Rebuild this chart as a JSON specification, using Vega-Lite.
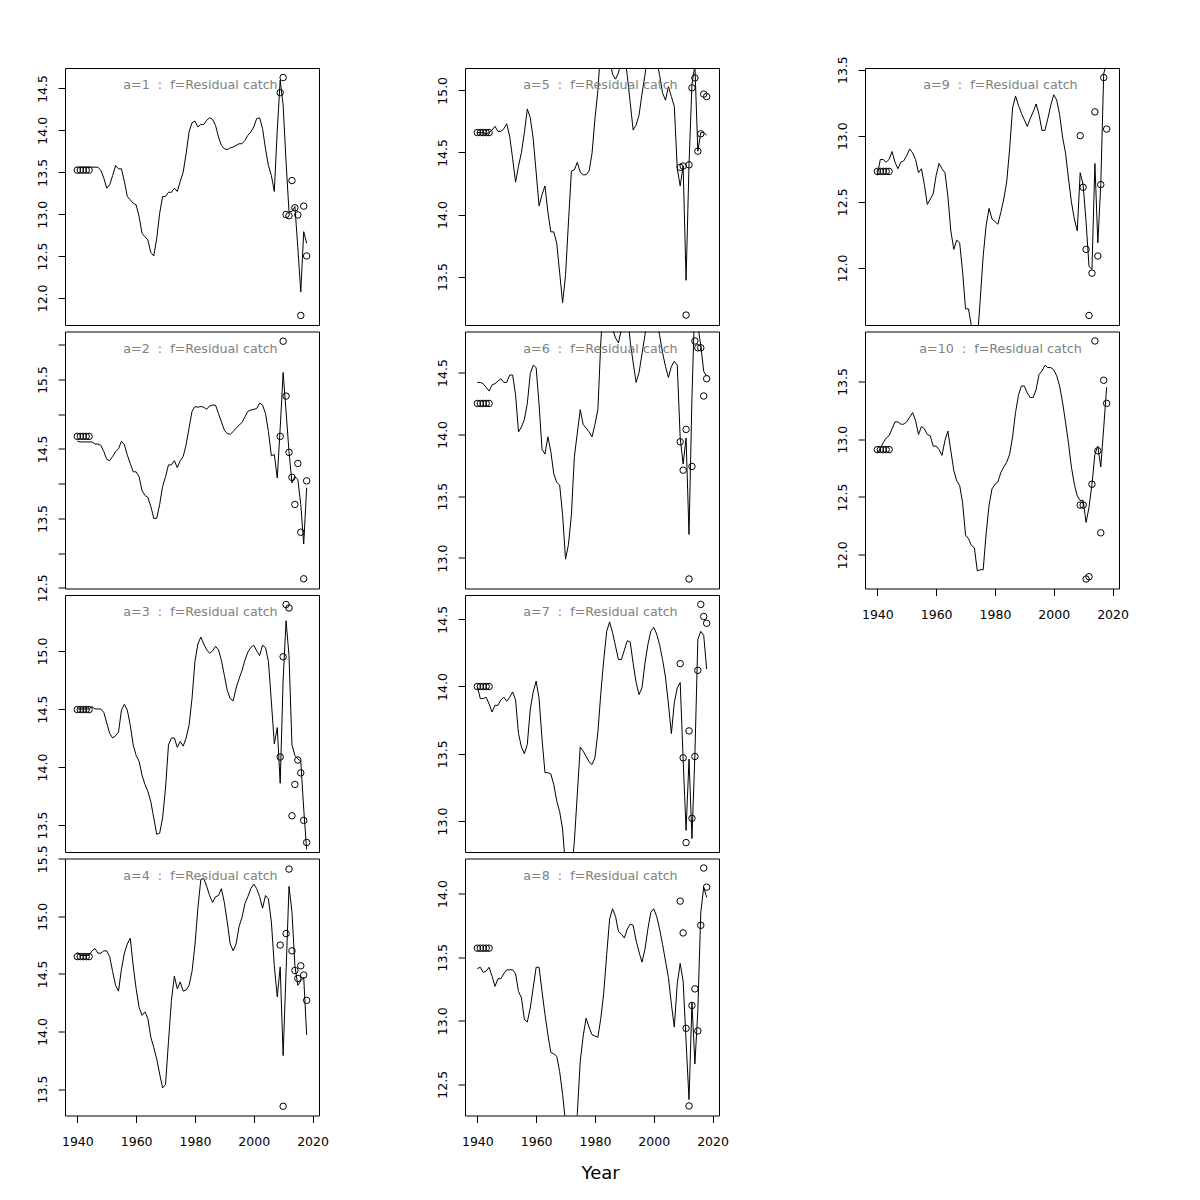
{
"$schema":"https://vega.github.io/schema/vega-lite/v6.json",
"background":"white",
"padding":{"left":36,"top":55,"right":10,"bottom":10},
"title":{"text":"Year","orient":"bottom","fontSize":18,"fontWeight":"normal","color":"black","font":"DejaVu Sans","frame":"bounds","anchor":"middle","offset":30,"baseline":"alphabetic","dx":18},
"columns":3,
"spacing":{"row":6.5,"column":146},
"bounds":"flush",
"datasets":{
"lines":[
{"a":1,"y":1940,"v":13.56},{"a":1,"y":1941,"v":13.56},{"a":1,"y":1942,"v":13.56},{"a":1,"y":1943,"v":13.56},{"a":1,"y":1944,"v":13.56},{"a":1,"y":1945,"v":13.56},{"a":1,"y":1946,"v":13.56},{"a":1,"y":1947,"v":13.56},{"a":1,"y":1948,"v":13.52},{"a":1,"y":1949,"v":13.43},
{"a":1,"y":1950,"v":13.31},{"a":1,"y":1951,"v":13.35},{"a":1,"y":1952,"v":13.46},{"a":1,"y":1953,"v":13.58},{"a":1,"y":1954,"v":13.54},{"a":1,"y":1955,"v":13.54},{"a":1,"y":1956,"v":13.39},{"a":1,"y":1957,"v":13.21},{"a":1,"y":1958,"v":13.17},{"a":1,"y":1959,"v":13.13},
{"a":1,"y":1960,"v":13.11},{"a":1,"y":1961,"v":12.97},{"a":1,"y":1962,"v":12.77},{"a":1,"y":1963,"v":12.73},{"a":1,"y":1964,"v":12.69},{"a":1,"y":1965,"v":12.54},{"a":1,"y":1966,"v":12.50},{"a":1,"y":1967,"v":12.71},{"a":1,"y":1968,"v":13.01},{"a":1,"y":1969,"v":13.21},
{"a":1,"y":1970,"v":13.21},{"a":1,"y":1971,"v":13.26},{"a":1,"y":1972,"v":13.26},{"a":1,"y":1973,"v":13.31},{"a":1,"y":1974,"v":13.27},{"a":1,"y":1975,"v":13.39},{"a":1,"y":1976,"v":13.50},{"a":1,"y":1977,"v":13.72},{"a":1,"y":1978,"v":13.98},{"a":1,"y":1979,"v":14.09},
{"a":1,"y":1980,"v":14.11},{"a":1,"y":1981,"v":14.04},{"a":1,"y":1982,"v":14.07},{"a":1,"y":1983,"v":14.07},{"a":1,"y":1984,"v":14.12},{"a":1,"y":1985,"v":14.15},{"a":1,"y":1986,"v":14.13},{"a":1,"y":1987,"v":14.06},{"a":1,"y":1988,"v":13.92},{"a":1,"y":1989,"v":13.82},
{"a":1,"y":1990,"v":13.78},{"a":1,"y":1991,"v":13.77},{"a":1,"y":1992,"v":13.79},{"a":1,"y":1993,"v":13.80},{"a":1,"y":1994,"v":13.82},{"a":1,"y":1995,"v":13.84},{"a":1,"y":1996,"v":13.84},{"a":1,"y":1997,"v":13.88},{"a":1,"y":1998,"v":13.94},{"a":1,"y":1999,"v":13.98},
{"a":1,"y":2000,"v":14.04},{"a":1,"y":2001,"v":14.14},{"a":1,"y":2002,"v":14.15},{"a":1,"y":2003,"v":14.02},{"a":1,"y":2004,"v":13.78},{"a":1,"y":2005,"v":13.58},{"a":1,"y":2006,"v":13.46},{"a":1,"y":2007,"v":13.27},{"a":1,"y":2008,"v":14.00},{"a":1,"y":2009,"v":14.60},
{"a":1,"y":2010,"v":14.30},{"a":1,"y":2011,"v":13.62},{"a":1,"y":2012,"v":13.03},{"a":1,"y":2013,"v":13.03},{"a":1,"y":2014,"v":13.09},{"a":1,"y":2015,"v":12.60},{"a":1,"y":2016,"v":12.07},{"a":1,"y":2017,"v":12.79},{"a":1,"y":2018,"v":12.65},
{"a":2,"y":1940,"v":14.61},{"a":2,"y":1941,"v":14.60},{"a":2,"y":1942,"v":14.60},{"a":2,"y":1943,"v":14.60},{"a":2,"y":1944,"v":14.60},{"a":2,"y":1945,"v":14.60},{"a":2,"y":1946,"v":14.57},{"a":2,"y":1947,"v":14.57},{"a":2,"y":1948,"v":14.55},{"a":2,"y":1949,"v":14.46},
{"a":2,"y":1950,"v":14.35},{"a":2,"y":1951,"v":14.33},{"a":2,"y":1952,"v":14.39},{"a":2,"y":1953,"v":14.46},{"a":2,"y":1954,"v":14.50},{"a":2,"y":1955,"v":14.61},{"a":2,"y":1956,"v":14.56},{"a":2,"y":1957,"v":14.41},{"a":2,"y":1958,"v":14.29},{"a":2,"y":1959,"v":14.17},
{"a":2,"y":1960,"v":14.17},{"a":2,"y":1961,"v":14.10},{"a":2,"y":1962,"v":13.90},{"a":2,"y":1963,"v":13.83},{"a":2,"y":1964,"v":13.80},{"a":2,"y":1965,"v":13.67},{"a":2,"y":1966,"v":13.50},{"a":2,"y":1967,"v":13.50},{"a":2,"y":1968,"v":13.70},{"a":2,"y":1969,"v":13.96},
{"a":2,"y":1970,"v":14.10},{"a":2,"y":1971,"v":14.27},{"a":2,"y":1972,"v":14.27},{"a":2,"y":1973,"v":14.33},{"a":2,"y":1974,"v":14.23},{"a":2,"y":1975,"v":14.33},{"a":2,"y":1976,"v":14.39},{"a":2,"y":1977,"v":14.56},{"a":2,"y":1978,"v":14.80},{"a":2,"y":1979,"v":15.04},
{"a":2,"y":1980,"v":15.11},{"a":2,"y":1981,"v":15.10},{"a":2,"y":1982,"v":15.11},{"a":2,"y":1983,"v":15.10},{"a":2,"y":1984,"v":15.07},{"a":2,"y":1985,"v":15.12},{"a":2,"y":1986,"v":15.13},{"a":2,"y":1987,"v":15.13},{"a":2,"y":1988,"v":15.01},{"a":2,"y":1989,"v":14.89},
{"a":2,"y":1990,"v":14.77},{"a":2,"y":1991,"v":14.72},{"a":2,"y":1992,"v":14.71},{"a":2,"y":1993,"v":14.75},{"a":2,"y":1994,"v":14.80},{"a":2,"y":1995,"v":14.84},{"a":2,"y":1996,"v":14.88},{"a":2,"y":1997,"v":14.96},{"a":2,"y":1998,"v":15.04},{"a":2,"y":1999,"v":15.06},
{"a":2,"y":2000,"v":15.07},{"a":2,"y":2001,"v":15.08},{"a":2,"y":2002,"v":15.16},{"a":2,"y":2003,"v":15.13},{"a":2,"y":2004,"v":15.01},{"a":2,"y":2005,"v":14.75},{"a":2,"y":2006,"v":14.40},{"a":2,"y":2007,"v":14.42},{"a":2,"y":2008,"v":14.08},{"a":2,"y":2009,"v":14.80},
{"a":2,"y":2010,"v":15.60},{"a":2,"y":2011,"v":15.04},{"a":2,"y":2012,"v":14.46},{"a":2,"y":2013,"v":14.01},{"a":2,"y":2014,"v":14.10},{"a":2,"y":2015,"v":14.06},{"a":2,"y":2016,"v":13.70},{"a":2,"y":2017,"v":13.13},{"a":2,"y":2018,"v":13.94},
{"a":3,"y":1940,"v":14.50},{"a":3,"y":1941,"v":14.50},{"a":3,"y":1942,"v":14.50},{"a":3,"y":1943,"v":14.50},{"a":3,"y":1944,"v":14.50},{"a":3,"y":1945,"v":14.52},{"a":3,"y":1946,"v":14.50},{"a":3,"y":1947,"v":14.50},{"a":3,"y":1948,"v":14.50},{"a":3,"y":1949,"v":14.47},
{"a":3,"y":1950,"v":14.38},{"a":3,"y":1951,"v":14.29},{"a":3,"y":1952,"v":14.25},{"a":3,"y":1953,"v":14.27},{"a":3,"y":1954,"v":14.30},{"a":3,"y":1955,"v":14.49},{"a":3,"y":1956,"v":14.54},{"a":3,"y":1957,"v":14.49},{"a":3,"y":1958,"v":14.36},{"a":3,"y":1959,"v":14.19},
{"a":3,"y":1960,"v":14.10},{"a":3,"y":1961,"v":14.05},{"a":3,"y":1962,"v":13.93},{"a":3,"y":1963,"v":13.85},{"a":3,"y":1964,"v":13.79},{"a":3,"y":1965,"v":13.70},{"a":3,"y":1966,"v":13.56},{"a":3,"y":1967,"v":13.42},{"a":3,"y":1968,"v":13.43},{"a":3,"y":1969,"v":13.56},
{"a":3,"y":1970,"v":13.82},{"a":3,"y":1971,"v":14.19},{"a":3,"y":1972,"v":14.25},{"a":3,"y":1973,"v":14.25},{"a":3,"y":1974,"v":14.17},{"a":3,"y":1975,"v":14.22},{"a":3,"y":1976,"v":14.18},{"a":3,"y":1977,"v":14.25},{"a":3,"y":1978,"v":14.36},{"a":3,"y":1979,"v":14.59},
{"a":3,"y":1980,"v":14.91},{"a":3,"y":1981,"v":15.06},{"a":3,"y":1982,"v":15.12},{"a":3,"y":1983,"v":15.06},{"a":3,"y":1984,"v":15.01},{"a":3,"y":1985,"v":14.98},{"a":3,"y":1986,"v":15.00},{"a":3,"y":1987,"v":15.04},{"a":3,"y":1988,"v":15.01},{"a":3,"y":1989,"v":14.92},
{"a":3,"y":1990,"v":14.79},{"a":3,"y":1991,"v":14.66},{"a":3,"y":1992,"v":14.59},{"a":3,"y":1993,"v":14.57},{"a":3,"y":1994,"v":14.68},{"a":3,"y":1995,"v":14.76},{"a":3,"y":1996,"v":14.83},{"a":3,"y":1997,"v":14.92},{"a":3,"y":1998,"v":14.99},{"a":3,"y":1999,"v":15.03},
{"a":3,"y":2000,"v":15.05},{"a":3,"y":2001,"v":15.00},{"a":3,"y":2002,"v":14.96},{"a":3,"y":2003,"v":15.05},{"a":3,"y":2004,"v":15.03},{"a":3,"y":2005,"v":14.91},{"a":3,"y":2006,"v":14.56},{"a":3,"y":2007,"v":14.20},{"a":3,"y":2008,"v":14.34},{"a":3,"y":2009,"v":13.86},
{"a":3,"y":2010,"v":14.75},{"a":3,"y":2011,"v":15.26},{"a":3,"y":2012,"v":14.96},{"a":3,"y":2013,"v":14.19},{"a":3,"y":2014,"v":14.10},{"a":3,"y":2015,"v":14.07},{"a":3,"y":2016,"v":14.05},{"a":3,"y":2017,"v":13.64},{"a":3,"y":2018,"v":13.29},
{"a":4,"y":1940,"v":14.69},{"a":4,"y":1941,"v":14.66},{"a":4,"y":1942,"v":14.66},{"a":4,"y":1943,"v":14.66},{"a":4,"y":1944,"v":14.66},{"a":4,"y":1945,"v":14.70},{"a":4,"y":1946,"v":14.72},{"a":4,"y":1947,"v":14.68},{"a":4,"y":1948,"v":14.68},{"a":4,"y":1949,"v":14.70},
{"a":4,"y":1950,"v":14.70},{"a":4,"y":1951,"v":14.65},{"a":4,"y":1952,"v":14.52},{"a":4,"y":1953,"v":14.40},{"a":4,"y":1954,"v":14.35},{"a":4,"y":1955,"v":14.54},{"a":4,"y":1956,"v":14.68},{"a":4,"y":1957,"v":14.76},{"a":4,"y":1958,"v":14.81},{"a":4,"y":1959,"v":14.57},
{"a":4,"y":1960,"v":14.37},{"a":4,"y":1961,"v":14.21},{"a":4,"y":1962,"v":14.14},{"a":4,"y":1963,"v":14.17},{"a":4,"y":1964,"v":14.11},{"a":4,"y":1965,"v":13.95},{"a":4,"y":1966,"v":13.86},{"a":4,"y":1967,"v":13.76},{"a":4,"y":1968,"v":13.63},{"a":4,"y":1969,"v":13.51},
{"a":4,"y":1970,"v":13.54},{"a":4,"y":1971,"v":13.91},{"a":4,"y":1972,"v":14.27},{"a":4,"y":1973,"v":14.48},{"a":4,"y":1974,"v":14.37},{"a":4,"y":1975,"v":14.43},{"a":4,"y":1976,"v":14.35},{"a":4,"y":1977,"v":14.36},{"a":4,"y":1978,"v":14.40},{"a":4,"y":1979,"v":14.52},
{"a":4,"y":1980,"v":14.75},{"a":4,"y":1981,"v":15.07},{"a":4,"y":1982,"v":15.32},{"a":4,"y":1983,"v":15.33},{"a":4,"y":1984,"v":15.26},{"a":4,"y":1985,"v":15.18},{"a":4,"y":1986,"v":15.12},{"a":4,"y":1987,"v":15.17},{"a":4,"y":1988,"v":15.18},{"a":4,"y":1989,"v":15.24},
{"a":4,"y":1990,"v":15.12},{"a":4,"y":1991,"v":14.95},{"a":4,"y":1992,"v":14.76},{"a":4,"y":1993,"v":14.70},{"a":4,"y":1994,"v":14.76},{"a":4,"y":1995,"v":14.91},{"a":4,"y":1996,"v":14.99},{"a":4,"y":1997,"v":15.11},{"a":4,"y":1998,"v":15.17},{"a":4,"y":1999,"v":15.24},
{"a":4,"y":2000,"v":15.28},{"a":4,"y":2001,"v":15.24},{"a":4,"y":2002,"v":15.17},{"a":4,"y":2003,"v":15.07},{"a":4,"y":2004,"v":15.18},{"a":4,"y":2005,"v":15.15},{"a":4,"y":2006,"v":14.95},{"a":4,"y":2007,"v":14.57},{"a":4,"y":2008,"v":14.30},{"a":4,"y":2009,"v":14.56},
{"a":4,"y":2010,"v":13.79},{"a":4,"y":2011,"v":14.52},{"a":4,"y":2012,"v":15.26},{"a":4,"y":2013,"v":15.04},{"a":4,"y":2014,"v":14.57},{"a":4,"y":2015,"v":14.40},{"a":4,"y":2016,"v":14.44},{"a":4,"y":2017,"v":14.47},{"a":4,"y":2018,"v":13.97},
{"a":5,"y":1940,"v":14.66},{"a":5,"y":1941,"v":14.66},{"a":5,"y":1942,"v":14.66},{"a":5,"y":1943,"v":14.65},{"a":5,"y":1944,"v":14.66},{"a":5,"y":1945,"v":14.68},{"a":5,"y":1946,"v":14.71},{"a":5,"y":1947,"v":14.67},{"a":5,"y":1948,"v":14.67},{"a":5,"y":1949,"v":14.69},
{"a":5,"y":1950,"v":14.73},{"a":5,"y":1951,"v":14.63},{"a":5,"y":1952,"v":14.45},{"a":5,"y":1953,"v":14.26},{"a":5,"y":1954,"v":14.39},{"a":5,"y":1955,"v":14.50},{"a":5,"y":1956,"v":14.66},{"a":5,"y":1957,"v":14.85},{"a":5,"y":1958,"v":14.78},{"a":5,"y":1959,"v":14.61},
{"a":5,"y":1960,"v":14.34},{"a":5,"y":1961,"v":14.07},{"a":5,"y":1962,"v":14.16},{"a":5,"y":1963,"v":14.23},{"a":5,"y":1964,"v":14.02},{"a":5,"y":1965,"v":13.86},{"a":5,"y":1966,"v":13.86},{"a":5,"y":1967,"v":13.77},{"a":5,"y":1968,"v":13.53},{"a":5,"y":1969,"v":13.29},
{"a":5,"y":1970,"v":13.51},{"a":5,"y":1971,"v":13.94},{"a":5,"y":1972,"v":14.35},{"a":5,"y":1973,"v":14.36},{"a":5,"y":1974,"v":14.42},{"a":5,"y":1975,"v":14.34},{"a":5,"y":1976,"v":14.32},{"a":5,"y":1977,"v":14.32},{"a":5,"y":1978,"v":14.35},{"a":5,"y":1979,"v":14.49},
{"a":5,"y":1980,"v":14.77},{"a":5,"y":1981,"v":15.00},{"a":5,"y":1982,"v":15.35},{"a":5,"y":1983,"v":15.60},{"a":5,"y":1984,"v":15.50},{"a":5,"y":1985,"v":15.25},{"a":5,"y":1986,"v":15.13},{"a":5,"y":1987,"v":15.09},{"a":5,"y":1988,"v":15.14},{"a":5,"y":1989,"v":15.25},
{"a":5,"y":1990,"v":15.30},{"a":5,"y":1991,"v":15.12},{"a":5,"y":1992,"v":14.90},{"a":5,"y":1993,"v":14.68},{"a":5,"y":1994,"v":14.72},{"a":5,"y":1995,"v":14.80},{"a":5,"y":1996,"v":14.97},{"a":5,"y":1997,"v":15.12},{"a":5,"y":1998,"v":15.30},{"a":5,"y":1999,"v":15.50},
{"a":5,"y":2000,"v":15.40},{"a":5,"y":2001,"v":15.25},{"a":5,"y":2002,"v":15.12},{"a":5,"y":2003,"v":14.98},{"a":5,"y":2004,"v":14.92},{"a":5,"y":2005,"v":15.03},{"a":5,"y":2006,"v":14.95},{"a":5,"y":2007,"v":14.87},{"a":5,"y":2008,"v":14.37},{"a":5,"y":2009,"v":14.23},
{"a":5,"y":2010,"v":14.39},{"a":5,"y":2011,"v":13.47},{"a":5,"y":2012,"v":14.40},{"a":5,"y":2013,"v":15.05},{"a":5,"y":2014,"v":15.20},{"a":5,"y":2015,"v":14.51},{"a":5,"y":2016,"v":14.66},{"a":5,"y":2017,"v":14.66},{"a":5,"y":2018,"v":14.64},
{"a":6,"y":1940,"v":14.42},{"a":6,"y":1941,"v":14.42},{"a":6,"y":1942,"v":14.41},{"a":6,"y":1943,"v":14.38},{"a":6,"y":1944,"v":14.35},{"a":6,"y":1945,"v":14.40},{"a":6,"y":1946,"v":14.41},{"a":6,"y":1947,"v":14.43},{"a":6,"y":1948,"v":14.45},{"a":6,"y":1949,"v":14.42},
{"a":6,"y":1950,"v":14.42},{"a":6,"y":1951,"v":14.48},{"a":6,"y":1952,"v":14.48},{"a":6,"y":1953,"v":14.32},{"a":6,"y":1954,"v":14.02},{"a":6,"y":1955,"v":14.06},{"a":6,"y":1956,"v":14.12},{"a":6,"y":1957,"v":14.25},{"a":6,"y":1958,"v":14.49},{"a":6,"y":1959,"v":14.56},
{"a":6,"y":1960,"v":14.54},{"a":6,"y":1961,"v":14.24},{"a":6,"y":1962,"v":13.88},{"a":6,"y":1963,"v":13.84},{"a":6,"y":1964,"v":13.98},{"a":6,"y":1965,"v":13.86},{"a":6,"y":1966,"v":13.68},{"a":6,"y":1967,"v":13.61},{"a":6,"y":1968,"v":13.59},{"a":6,"y":1969,"v":13.35},
{"a":6,"y":1970,"v":12.99},{"a":6,"y":1971,"v":13.11},{"a":6,"y":1972,"v":13.35},{"a":6,"y":1973,"v":13.82},{"a":6,"y":1974,"v":14.01},{"a":6,"y":1975,"v":14.20},{"a":6,"y":1976,"v":14.08},{"a":6,"y":1977,"v":14.05},{"a":6,"y":1978,"v":14.02},{"a":6,"y":1979,"v":13.98},
{"a":6,"y":1980,"v":14.08},{"a":6,"y":1981,"v":14.20},{"a":6,"y":1982,"v":14.75},{"a":6,"y":1983,"v":15.10},{"a":6,"y":1984,"v":15.30},{"a":6,"y":1985,"v":15.10},{"a":6,"y":1986,"v":14.85},{"a":6,"y":1987,"v":14.78},{"a":6,"y":1988,"v":14.74},{"a":6,"y":1989,"v":14.85},
{"a":6,"y":1990,"v":15.10},{"a":6,"y":1991,"v":15.00},{"a":6,"y":1992,"v":14.75},{"a":6,"y":1993,"v":14.58},{"a":6,"y":1994,"v":14.42},{"a":6,"y":1995,"v":14.50},{"a":6,"y":1996,"v":14.65},{"a":6,"y":1997,"v":14.80},{"a":6,"y":1998,"v":15.00},{"a":6,"y":1999,"v":15.20},
{"a":6,"y":2000,"v":15.10},{"a":6,"y":2001,"v":14.95},{"a":6,"y":2002,"v":14.80},{"a":6,"y":2003,"v":14.66},{"a":6,"y":2004,"v":14.55},{"a":6,"y":2005,"v":14.46},{"a":6,"y":2006,"v":14.55},{"a":6,"y":2007,"v":14.59},{"a":6,"y":2008,"v":14.56},{"a":6,"y":2009,"v":13.97},
{"a":6,"y":2010,"v":13.76},{"a":6,"y":2011,"v":13.97},{"a":6,"y":2012,"v":13.19},{"a":6,"y":2013,"v":14.30},{"a":6,"y":2014,"v":15.10},{"a":6,"y":2015,"v":14.88},{"a":6,"y":2016,"v":14.72},{"a":6,"y":2017,"v":14.51},{"a":6,"y":2018,"v":14.47},
{"a":7,"y":1940,"v":14.00},{"a":7,"y":1941,"v":13.91},{"a":7,"y":1942,"v":13.91},{"a":7,"y":1943,"v":13.92},{"a":7,"y":1944,"v":13.87},{"a":7,"y":1945,"v":13.81},{"a":7,"y":1946,"v":13.86},{"a":7,"y":1947,"v":13.86},{"a":7,"y":1948,"v":13.90},{"a":7,"y":1949,"v":13.92},
{"a":7,"y":1950,"v":13.89},{"a":7,"y":1951,"v":13.92},{"a":7,"y":1952,"v":13.96},{"a":7,"y":1953,"v":13.90},{"a":7,"y":1954,"v":13.65},{"a":7,"y":1955,"v":13.55},{"a":7,"y":1956,"v":13.50},{"a":7,"y":1957,"v":13.57},{"a":7,"y":1958,"v":13.83},{"a":7,"y":1959,"v":13.96},
{"a":7,"y":1960,"v":14.04},{"a":7,"y":1961,"v":13.91},{"a":7,"y":1962,"v":13.61},{"a":7,"y":1963,"v":13.36},{"a":7,"y":1964,"v":13.36},{"a":7,"y":1965,"v":13.35},{"a":7,"y":1966,"v":13.27},{"a":7,"y":1967,"v":13.15},{"a":7,"y":1968,"v":13.07},{"a":7,"y":1969,"v":12.94},
{"a":7,"y":1970,"v":12.65},{"a":7,"y":1971,"v":12.50},{"a":7,"y":1972,"v":12.60},{"a":7,"y":1973,"v":12.85},{"a":7,"y":1974,"v":13.20},{"a":7,"y":1975,"v":13.55},{"a":7,"y":1976,"v":13.52},{"a":7,"y":1977,"v":13.48},{"a":7,"y":1978,"v":13.44},{"a":7,"y":1979,"v":13.42},
{"a":7,"y":1980,"v":13.47},{"a":7,"y":1981,"v":13.66},{"a":7,"y":1982,"v":13.95},{"a":7,"y":1983,"v":14.20},{"a":7,"y":1984,"v":14.41},{"a":7,"y":1985,"v":14.48},{"a":7,"y":1986,"v":14.40},{"a":7,"y":1987,"v":14.30},{"a":7,"y":1988,"v":14.20},{"a":7,"y":1989,"v":14.20},
{"a":7,"y":1990,"v":14.27},{"a":7,"y":1991,"v":14.34},{"a":7,"y":1992,"v":14.33},{"a":7,"y":1993,"v":14.17},{"a":7,"y":1994,"v":14.03},{"a":7,"y":1995,"v":13.94},{"a":7,"y":1996,"v":13.99},{"a":7,"y":1997,"v":14.17},{"a":7,"y":1998,"v":14.31},{"a":7,"y":1999,"v":14.41},
{"a":7,"y":2000,"v":14.44},{"a":7,"y":2001,"v":14.39},{"a":7,"y":2002,"v":14.31},{"a":7,"y":2003,"v":14.20},{"a":7,"y":2004,"v":14.07},{"a":7,"y":2005,"v":13.87},{"a":7,"y":2006,"v":13.65},{"a":7,"y":2007,"v":13.88},{"a":7,"y":2008,"v":13.99},{"a":7,"y":2009,"v":14.03},
{"a":7,"y":2010,"v":13.46},{"a":7,"y":2011,"v":12.93},{"a":7,"y":2012,"v":13.46},{"a":7,"y":2013,"v":12.87},{"a":7,"y":2014,"v":13.49},{"a":7,"y":2015,"v":14.35},{"a":7,"y":2016,"v":14.41},{"a":7,"y":2017,"v":14.38},{"a":7,"y":2018,"v":14.13},
{"a":8,"y":1940,"v":13.41},{"a":8,"y":1941,"v":13.42},{"a":8,"y":1942,"v":13.38},{"a":8,"y":1943,"v":13.39},{"a":8,"y":1944,"v":13.42},{"a":8,"y":1945,"v":13.35},{"a":8,"y":1946,"v":13.27},{"a":8,"y":1947,"v":13.33},{"a":8,"y":1948,"v":13.33},{"a":8,"y":1949,"v":13.37},
{"a":8,"y":1950,"v":13.40},{"a":8,"y":1951,"v":13.40},{"a":8,"y":1952,"v":13.40},{"a":8,"y":1953,"v":13.37},{"a":8,"y":1954,"v":13.23},{"a":8,"y":1955,"v":13.18},{"a":8,"y":1956,"v":13.01},{"a":8,"y":1957,"v":12.99},{"a":8,"y":1958,"v":13.10},{"a":8,"y":1959,"v":13.26},
{"a":8,"y":1960,"v":13.42},{"a":8,"y":1961,"v":13.42},{"a":8,"y":1962,"v":13.23},{"a":8,"y":1963,"v":13.05},{"a":8,"y":1964,"v":12.89},{"a":8,"y":1965,"v":12.75},{"a":8,"y":1966,"v":12.74},{"a":8,"y":1967,"v":12.72},{"a":8,"y":1968,"v":12.60},{"a":8,"y":1969,"v":12.42},
{"a":8,"y":1970,"v":12.20},{"a":8,"y":1971,"v":12.00},{"a":8,"y":1972,"v":11.90},{"a":8,"y":1973,"v":12.00},{"a":8,"y":1974,"v":12.27},{"a":8,"y":1975,"v":12.68},{"a":8,"y":1976,"v":12.88},{"a":8,"y":1977,"v":13.02},{"a":8,"y":1978,"v":12.95},{"a":8,"y":1979,"v":12.89},
{"a":8,"y":1980,"v":12.88},{"a":8,"y":1981,"v":12.87},{"a":8,"y":1982,"v":13.02},{"a":8,"y":1983,"v":13.22},{"a":8,"y":1984,"v":13.52},{"a":8,"y":1985,"v":13.80},{"a":8,"y":1986,"v":13.88},{"a":8,"y":1987,"v":13.82},{"a":8,"y":1988,"v":13.70},{"a":8,"y":1989,"v":13.68},
{"a":8,"y":1990,"v":13.65},{"a":8,"y":1991,"v":13.72},{"a":8,"y":1992,"v":13.76},{"a":8,"y":1993,"v":13.75},{"a":8,"y":1994,"v":13.63},{"a":8,"y":1995,"v":13.54},{"a":8,"y":1996,"v":13.46},{"a":8,"y":1997,"v":13.56},{"a":8,"y":1998,"v":13.72},{"a":8,"y":1999,"v":13.85},
{"a":8,"y":2000,"v":13.88},{"a":8,"y":2001,"v":13.82},{"a":8,"y":2002,"v":13.72},{"a":8,"y":2003,"v":13.60},{"a":8,"y":2004,"v":13.47},{"a":8,"y":2005,"v":13.34},{"a":8,"y":2006,"v":13.13},{"a":8,"y":2007,"v":12.95},{"a":8,"y":2008,"v":13.29},{"a":8,"y":2009,"v":13.45},
{"a":8,"y":2010,"v":13.31},{"a":8,"y":2011,"v":12.84},{"a":8,"y":2012,"v":12.38},{"a":8,"y":2013,"v":13.14},{"a":8,"y":2014,"v":12.66},{"a":8,"y":2015,"v":13.08},{"a":8,"y":2016,"v":13.85},{"a":8,"y":2017,"v":14.05},{"a":8,"y":2018,"v":13.97},
{"a":9,"y":1940,"v":12.70},{"a":9,"y":1941,"v":12.82},{"a":9,"y":1942,"v":12.82},{"a":9,"y":1943,"v":12.80},{"a":9,"y":1944,"v":12.82},{"a":9,"y":1945,"v":12.88},{"a":9,"y":1946,"v":12.80},{"a":9,"y":1947,"v":12.75},{"a":9,"y":1948,"v":12.80},{"a":9,"y":1949,"v":12.81},
{"a":9,"y":1950,"v":12.85},{"a":9,"y":1951,"v":12.90},{"a":9,"y":1952,"v":12.87},{"a":9,"y":1953,"v":12.82},{"a":9,"y":1954,"v":12.72},{"a":9,"y":1955,"v":12.75},{"a":9,"y":1956,"v":12.63},{"a":9,"y":1957,"v":12.48},{"a":9,"y":1958,"v":12.52},{"a":9,"y":1959,"v":12.56},
{"a":9,"y":1960,"v":12.70},{"a":9,"y":1961,"v":12.79},{"a":9,"y":1962,"v":12.75},{"a":9,"y":1963,"v":12.72},{"a":9,"y":1964,"v":12.54},{"a":9,"y":1965,"v":12.28},{"a":9,"y":1966,"v":12.14},{"a":9,"y":1967,"v":12.21},{"a":9,"y":1968,"v":12.19},{"a":9,"y":1969,"v":11.97},
{"a":9,"y":1970,"v":11.69},{"a":9,"y":1971,"v":11.69},{"a":9,"y":1972,"v":11.56},{"a":9,"y":1973,"v":11.40},{"a":9,"y":1974,"v":11.45},{"a":9,"y":1975,"v":11.76},{"a":9,"y":1976,"v":12.09},{"a":9,"y":1977,"v":12.32},{"a":9,"y":1978,"v":12.45},{"a":9,"y":1979,"v":12.37},
{"a":9,"y":1980,"v":12.35},{"a":9,"y":1981,"v":12.33},{"a":9,"y":1982,"v":12.42},{"a":9,"y":1983,"v":12.52},{"a":9,"y":1984,"v":12.65},{"a":9,"y":1985,"v":12.90},{"a":9,"y":1986,"v":13.21},{"a":9,"y":1987,"v":13.30},{"a":9,"y":1988,"v":13.23},{"a":9,"y":1989,"v":13.17},
{"a":9,"y":1990,"v":13.12},{"a":9,"y":1991,"v":13.07},{"a":9,"y":1992,"v":13.13},{"a":9,"y":1993,"v":13.18},{"a":9,"y":1994,"v":13.24},{"a":9,"y":1995,"v":13.16},{"a":9,"y":1996,"v":13.04},{"a":9,"y":1997,"v":13.04},{"a":9,"y":1998,"v":13.13},{"a":9,"y":1999,"v":13.23},
{"a":9,"y":2000,"v":13.31},{"a":9,"y":2001,"v":13.27},{"a":9,"y":2002,"v":13.16},{"a":9,"y":2003,"v":12.99},{"a":9,"y":2004,"v":12.87},{"a":9,"y":2005,"v":12.68},{"a":9,"y":2006,"v":12.50},{"a":9,"y":2007,"v":12.37},{"a":9,"y":2008,"v":12.28},{"a":9,"y":2009,"v":12.72},
{"a":9,"y":2010,"v":12.63},{"a":9,"y":2011,"v":12.35},{"a":9,"y":2012,"v":12.01},{"a":9,"y":2013,"v":11.99},{"a":9,"y":2014,"v":12.79},{"a":9,"y":2015,"v":12.19},{"a":9,"y":2016,"v":12.63},{"a":9,"y":2017,"v":13.47},{"a":9,"y":2018,"v":13.55},
{"a":10,"y":1940,"v":12.88},{"a":10,"y":1941,"v":12.92},{"a":10,"y":1942,"v":12.97},{"a":10,"y":1943,"v":13.01},{"a":10,"y":1944,"v":13.03},{"a":10,"y":1945,"v":13.09},{"a":10,"y":1946,"v":13.15},{"a":10,"y":1947,"v":13.15},{"a":10,"y":1948,"v":13.13},{"a":10,"y":1949,"v":13.13},
{"a":10,"y":1950,"v":13.15},{"a":10,"y":1951,"v":13.19},{"a":10,"y":1952,"v":13.23},{"a":10,"y":1953,"v":13.16},{"a":10,"y":1954,"v":13.04},{"a":10,"y":1955,"v":13.11},{"a":10,"y":1956,"v":13.09},{"a":10,"y":1957,"v":13.04},{"a":10,"y":1958,"v":13.03},{"a":10,"y":1959,"v":12.94},
{"a":10,"y":1960,"v":12.94},{"a":10,"y":1961,"v":12.91},{"a":10,"y":1962,"v":12.86},{"a":10,"y":1963,"v":12.99},{"a":10,"y":1964,"v":13.07},{"a":10,"y":1965,"v":12.90},{"a":10,"y":1966,"v":12.73},{"a":10,"y":1967,"v":12.64},{"a":10,"y":1968,"v":12.60},{"a":10,"y":1969,"v":12.45},
{"a":10,"y":1970,"v":12.17},{"a":10,"y":1971,"v":12.14},{"a":10,"y":1972,"v":12.08},{"a":10,"y":1973,"v":12.06},{"a":10,"y":1974,"v":11.86},{"a":10,"y":1975,"v":11.87},{"a":10,"y":1976,"v":11.87},{"a":10,"y":1977,"v":12.18},{"a":10,"y":1978,"v":12.43},{"a":10,"y":1979,"v":12.57},
{"a":10,"y":1980,"v":12.61},{"a":10,"y":1981,"v":12.63},{"a":10,"y":1982,"v":12.71},{"a":10,"y":1983,"v":12.76},{"a":10,"y":1984,"v":12.80},{"a":10,"y":1985,"v":12.87},{"a":10,"y":1986,"v":13.02},{"a":10,"y":1987,"v":13.23},{"a":10,"y":1988,"v":13.38},{"a":10,"y":1989,"v":13.46},
{"a":10,"y":1990,"v":13.46},{"a":10,"y":1991,"v":13.40},{"a":10,"y":1992,"v":13.36},{"a":10,"y":1993,"v":13.36},{"a":10,"y":1994,"v":13.43},{"a":10,"y":1995,"v":13.56},{"a":10,"y":1996,"v":13.59},{"a":10,"y":1997,"v":13.64},{"a":10,"y":1998,"v":13.62},{"a":10,"y":1999,"v":13.62},
{"a":10,"y":2000,"v":13.60},{"a":10,"y":2001,"v":13.55},{"a":10,"y":2002,"v":13.46},{"a":10,"y":2003,"v":13.32},{"a":10,"y":2004,"v":13.15},{"a":10,"y":2005,"v":12.97},{"a":10,"y":2006,"v":12.76},{"a":10,"y":2007,"v":12.61},{"a":10,"y":2008,"v":12.51},{"a":10,"y":2009,"v":12.47},
{"a":10,"y":2010,"v":12.47},{"a":10,"y":2011,"v":12.28},{"a":10,"y":2012,"v":12.41},{"a":10,"y":2013,"v":12.61},{"a":10,"y":2014,"v":12.87},{"a":10,"y":2015,"v":12.94},{"a":10,"y":2016,"v":12.76},{"a":10,"y":2017,"v":13.10},{"a":10,"y":2018,"v":13.45}
],
"pts":[
{"a":1,"y":1940,"v":13.525},{"a":1,"y":1941,"v":13.525},{"a":1,"y":1942,"v":13.525},{"a":1,"y":1943,"v":13.525},{"a":1,"y":1944,"v":13.525},
{"a":1,"y":2009,"v":14.45},{"a":1,"y":2010,"v":14.63},{"a":1,"y":2011,"v":12.995},{"a":1,"y":2012,"v":12.98},{"a":1,"y":2013,"v":13.40},{"a":1,"y":2014,"v":13.075},{"a":1,"y":2015,"v":12.99},{"a":1,"y":2016,"v":11.79},{"a":1,"y":2017,"v":13.095},{"a":1,"y":2018,"v":12.50},
{"a":2,"y":1940,"v":14.68},{"a":2,"y":1941,"v":14.68},{"a":2,"y":1942,"v":14.68},{"a":2,"y":1943,"v":14.68},{"a":2,"y":1944,"v":14.68},
{"a":2,"y":2009,"v":14.68},{"a":2,"y":2010,"v":16.05},{"a":2,"y":2011,"v":15.26},{"a":2,"y":2012,"v":14.45},{"a":2,"y":2013,"v":14.09},{"a":2,"y":2014,"v":13.70},{"a":2,"y":2015,"v":14.29},{"a":2,"y":2016,"v":13.30},{"a":2,"y":2017,"v":12.63},{"a":2,"y":2018,"v":14.04},
{"a":3,"y":1940,"v":14.495},{"a":3,"y":1941,"v":14.495},{"a":3,"y":1942,"v":14.495},{"a":3,"y":1943,"v":14.495},{"a":3,"y":1944,"v":14.495},
{"a":3,"y":2009,"v":14.086},{"a":3,"y":2010,"v":14.95},{"a":3,"y":2011,"v":15.40},{"a":3,"y":2012,"v":15.37},{"a":3,"y":2013,"v":13.58},{"a":3,"y":2014,"v":13.85},{"a":3,"y":2015,"v":14.06},{"a":3,"y":2016,"v":13.95},{"a":3,"y":2017,"v":13.54},{"a":3,"y":2018,"v":13.35},
{"a":4,"y":1940,"v":14.65},{"a":4,"y":1941,"v":14.65},{"a":4,"y":1942,"v":14.65},{"a":4,"y":1943,"v":14.65},{"a":4,"y":1944,"v":14.65},
{"a":4,"y":2009,"v":14.75},{"a":4,"y":2010,"v":13.35},{"a":4,"y":2011,"v":14.85},{"a":4,"y":2012,"v":15.41},{"a":4,"y":2013,"v":14.70},{"a":4,"y":2014,"v":14.53},{"a":4,"y":2015,"v":14.46},{"a":4,"y":2016,"v":14.57},{"a":4,"y":2017,"v":14.49},{"a":4,"y":2018,"v":14.27},
{"a":5,"y":1940,"v":14.66},{"a":5,"y":1941,"v":14.66},{"a":5,"y":1942,"v":14.66},{"a":5,"y":1943,"v":14.66},{"a":5,"y":1944,"v":14.66},
{"a":5,"y":2009,"v":14.38},{"a":5,"y":2010,"v":14.39},{"a":5,"y":2011,"v":13.19},{"a":5,"y":2012,"v":14.40},{"a":5,"y":2013,"v":15.02},{"a":5,"y":2014,"v":15.10},{"a":5,"y":2015,"v":14.51},{"a":5,"y":2016,"v":14.65},{"a":5,"y":2017,"v":14.97},{"a":5,"y":2018,"v":14.95},
{"a":6,"y":1940,"v":14.25},{"a":6,"y":1941,"v":14.25},{"a":6,"y":1942,"v":14.25},{"a":6,"y":1943,"v":14.25},{"a":6,"y":1944,"v":14.25},
{"a":6,"y":2009,"v":13.94},{"a":6,"y":2010,"v":13.71},{"a":6,"y":2011,"v":14.04},{"a":6,"y":2012,"v":12.83},{"a":6,"y":2013,"v":13.74},{"a":6,"y":2014,"v":14.755},{"a":6,"y":2015,"v":14.70},{"a":6,"y":2016,"v":14.70},{"a":6,"y":2017,"v":14.31},{"a":6,"y":2018,"v":14.45},
{"a":7,"y":1940,"v":14.00},{"a":7,"y":1941,"v":14.00},{"a":7,"y":1942,"v":14.00},{"a":7,"y":1943,"v":14.00},{"a":7,"y":1944,"v":14.00},
{"a":7,"y":2009,"v":14.17},{"a":7,"y":2010,"v":13.47},{"a":7,"y":2011,"v":12.84},{"a":7,"y":2012,"v":13.67},{"a":7,"y":2013,"v":13.02},{"a":7,"y":2014,"v":13.48},{"a":7,"y":2015,"v":14.12},{"a":7,"y":2016,"v":14.61},{"a":7,"y":2017,"v":14.52},{"a":7,"y":2018,"v":14.47},
{"a":8,"y":1940,"v":13.57},{"a":8,"y":1941,"v":13.57},{"a":8,"y":1942,"v":13.57},{"a":8,"y":1943,"v":13.57},{"a":8,"y":1944,"v":13.57},
{"a":8,"y":2009,"v":13.94},{"a":8,"y":2010,"v":13.69},{"a":8,"y":2011,"v":12.94},{"a":8,"y":2012,"v":12.33},{"a":8,"y":2013,"v":13.12},{"a":8,"y":2014,"v":13.25},{"a":8,"y":2015,"v":12.92},{"a":8,"y":2016,"v":13.75},{"a":8,"y":2017,"v":14.20},{"a":8,"y":2018,"v":14.05},
{"a":9,"y":1940,"v":12.73},{"a":9,"y":1941,"v":12.73},{"a":9,"y":1942,"v":12.73},{"a":9,"y":1943,"v":12.73},{"a":9,"y":1944,"v":12.73},
{"a":9,"y":2009,"v":13.00},{"a":9,"y":2010,"v":12.61},{"a":9,"y":2011,"v":12.14},{"a":9,"y":2012,"v":11.64},{"a":9,"y":2013,"v":11.96},{"a":9,"y":2014,"v":13.18},{"a":9,"y":2015,"v":12.09},{"a":9,"y":2016,"v":12.63},{"a":9,"y":2017,"v":13.44},{"a":9,"y":2018,"v":13.05},
{"a":10,"y":1940,"v":12.91},{"a":10,"y":1941,"v":12.91},{"a":10,"y":1942,"v":12.91},{"a":10,"y":1943,"v":12.91},{"a":10,"y":1944,"v":12.91},
{"a":10,"y":2009,"v":12.43},{"a":10,"y":2010,"v":12.43},{"a":10,"y":2011,"v":11.79},{"a":10,"y":2012,"v":11.81},{"a":10,"y":2013,"v":12.61},{"a":10,"y":2014,"v":13.85},{"a":10,"y":2015,"v":12.90},{"a":10,"y":2016,"v":12.19},{"a":10,"y":2017,"v":13.51},{"a":10,"y":2018,"v":13.31}
]
},
"concat":[
{"width":254,"height":257,"title":{"text":"a=1\u00a0 :\u00a0 f=Residual catch"},
 "encoding":{"x":{"field":"y","type":"quantitative","title":null,"scale":{"domain":[1935.8,2022.2],"nice":false,"zero":false},"axis":null},
  "y":{"field":"v","type":"quantitative","title":null,"scale":{"domain":[11.676,14.744],"nice":false,"zero":false},"axis":{"values":[12,12.5,13,13.5,14,14.5],"format":".1f"}}},
 "layer":[{"data":{"name":"lines"},"transform":[{"filter":"datum.a==1"}],"mark":{"type":"line","clip":true}},
  {"data":{"name":"pts"},"transform":[{"filter":"datum.a==1"}],"mark":{"type":"point","clip":true}}]},
{"width":254,"height":257,"title":{"text":"a=5\u00a0 :\u00a0 f=Residual catch"},
 "encoding":{"x":{"field":"y","type":"quantitative","title":null,"scale":{"domain":[1935.8,2022.2],"nice":false,"zero":false},"axis":null},
  "y":{"field":"v","type":"quantitative","title":null,"scale":{"domain":[13.11,15.18],"nice":false,"zero":false},"axis":{"values":[13.5,14,14.5,15],"format":".1f"}}},
 "layer":[{"data":{"name":"lines"},"transform":[{"filter":"datum.a==5"}],"mark":{"type":"line","clip":true}},
  {"data":{"name":"pts"},"transform":[{"filter":"datum.a==5"}],"mark":{"type":"point","clip":true}}]},
{"width":254,"height":257,"title":{"text":"a=9\u00a0 :\u00a0 f=Residual catch","offset":-36.3},
 "encoding":{"x":{"field":"y","type":"quantitative","title":null,"scale":{"domain":[1935.8,2022.2],"nice":false,"zero":false},"axis":null},
  "y":{"field":"v","type":"quantitative","title":null,"scale":{"domain":[11.568,13.512],"nice":false,"zero":false},"axis":{"values":[12,12.5,13,13.5],"format":".1f"}}},
 "layer":[{"data":{"name":"lines"},"transform":[{"filter":"datum.a==9"}],"mark":{"type":"line","clip":true}},
  {"data":{"name":"pts"},"transform":[{"filter":"datum.a==9"}],"mark":{"type":"point","clip":true}}]},
{"width":254,"height":257,"title":{"text":"a=2\u00a0 :\u00a0 f=Residual catch"},
 "encoding":{"x":{"field":"y","type":"quantitative","title":null,"scale":{"domain":[1935.8,2022.2],"nice":false,"zero":false},"axis":null},
  "y":{"field":"v","type":"quantitative","title":null,"scale":{"domain":[12.49,16.19],"nice":false,"zero":false},"axis":{"values":[12.5,13,13.5,14,14.5,15,15.5,16],"labelExpr":"datum.value % 1 == 0.5 ? format(datum.value, '.1f') : ''"}}},
 "layer":[{"data":{"name":"lines"},"transform":[{"filter":"datum.a==2"}],"mark":{"type":"line","clip":true}},
  {"data":{"name":"pts"},"transform":[{"filter":"datum.a==2"}],"mark":{"type":"point","clip":true}}]},
{"width":254,"height":257,"title":{"text":"a=6\u00a0 :\u00a0 f=Residual catch"},
 "encoding":{"x":{"field":"y","type":"quantitative","title":null,"scale":{"domain":[1935.8,2022.2],"nice":false,"zero":false},"axis":null},
  "y":{"field":"v","type":"quantitative","title":null,"scale":{"domain":[12.753,14.832],"nice":false,"zero":false},"axis":{"values":[13,13.5,14,14.5],"format":".1f"}}},
 "layer":[{"data":{"name":"lines"},"transform":[{"filter":"datum.a==6"}],"mark":{"type":"line","clip":true}},
  {"data":{"name":"pts"},"transform":[{"filter":"datum.a==6"}],"mark":{"type":"point","clip":true}}]},
{"width":254,"height":257,"title":{"text":"a=10\u00a0 :\u00a0 f=Residual catch"},
 "encoding":{"x":{"field":"y","type":"quantitative","title":null,"scale":{"domain":[1935.8,2022.2],"nice":false,"zero":false},"axis":{"values":[1940,1960,1980,2000,2020],"format":"d"}},
  "y":{"field":"v","type":"quantitative","title":null,"scale":{"domain":[11.708,13.932],"nice":false,"zero":false},"axis":{"values":[12,12.5,13,13.5],"format":".1f"}}},
 "layer":[{"data":{"name":"lines"},"transform":[{"filter":"datum.a==10"}],"mark":{"type":"line","clip":true}},
  {"data":{"name":"pts"},"transform":[{"filter":"datum.a==10"}],"mark":{"type":"point","clip":true}}]},
{"width":254,"height":257,"title":{"text":"a=3\u00a0 :\u00a0 f=Residual catch"},
 "encoding":{"x":{"field":"y","type":"quantitative","title":null,"scale":{"domain":[1935.8,2022.2],"nice":false,"zero":false},"axis":null},
  "y":{"field":"v","type":"quantitative","title":null,"scale":{"domain":[13.268,15.482],"nice":false,"zero":false},"axis":{"values":[13.5,14,14.5,15],"format":".1f"}}},
 "layer":[{"data":{"name":"lines"},"transform":[{"filter":"datum.a==3"}],"mark":{"type":"line","clip":true}},
  {"data":{"name":"pts"},"transform":[{"filter":"datum.a==3"}],"mark":{"type":"point","clip":true}}]},
{"width":254,"height":257,"title":{"text":"a=7\u00a0 :\u00a0 f=Residual catch"},
 "encoding":{"x":{"field":"y","type":"quantitative","title":null,"scale":{"domain":[1935.8,2022.2],"nice":false,"zero":false},"axis":null},
  "y":{"field":"v","type":"quantitative","title":null,"scale":{"domain":[12.77,14.68],"nice":false,"zero":false},"axis":{"values":[13,13.5,14,14.5],"format":".1f"}}},
 "layer":[{"data":{"name":"lines"},"transform":[{"filter":"datum.a==7"}],"mark":{"type":"line","clip":true}},
  {"data":{"name":"pts"},"transform":[{"filter":"datum.a==7"}],"mark":{"type":"point","clip":true}}]},
{"width":254,"height":257,"view":{"stroke":null},
 "data":{"name":"pts"},"transform":[{"filter":"datum.a==0"}],"mark":{"type":"point","opacity":0},
 "encoding":{"x":{"field":"y","type":"quantitative","title":null,"scale":{"domain":[1935.8,2022.2]},"axis":null},
  "y":{"field":"v","type":"quantitative","title":null,"scale":{"domain":[0,1]},"axis":null}}},
{"width":254,"height":257,"title":{"text":"a=4\u00a0 :\u00a0 f=Residual catch","offset":-37.7},
 "encoding":{"x":{"field":"y","type":"quantitative","title":null,"scale":{"domain":[1935.8,2022.2],"nice":false,"zero":false},"axis":{"values":[1940,1960,1980,2000,2020],"format":"d"}},
  "y":{"field":"v","type":"quantitative","title":null,"scale":{"domain":[13.27,15.502],"nice":false,"zero":false},"axis":{"values":[13.5,14,14.5,15,15.5],"format":".1f"}}},
 "layer":[{"data":{"name":"lines"},"transform":[{"filter":"datum.a==4"}],"mark":{"type":"line","clip":true}},
  {"data":{"name":"pts"},"transform":[{"filter":"datum.a==4"}],"mark":{"type":"point","clip":true}}]},
{"width":254,"height":257,"title":{"text":"a=8\u00a0 :\u00a0 f=Residual catch"},
 "encoding":{"x":{"field":"y","type":"quantitative","title":null,"scale":{"domain":[1935.8,2022.2],"nice":false,"zero":false},"axis":{"values":[1940,1960,1980,2000,2020],"format":"d"}},
  "y":{"field":"v","type":"quantitative","title":null,"scale":{"domain":[12.255,14.275],"nice":false,"zero":false},"axis":{"values":[12.5,13,13.5,14],"format":".1f"}}},
 "layer":[{"data":{"name":"lines"},"transform":[{"filter":"datum.a==8"}],"mark":{"type":"line","clip":true}},
  {"data":{"name":"pts"},"transform":[{"filter":"datum.a==8"}],"mark":{"type":"point","clip":true}}]}
],
"config":{
 "font":"DejaVu Sans",
 "view":{"stroke":"black","strokeWidth":1},
 "line":{"color":"black","strokeWidth":1},
 "point":{"shape":"circle","filled":false,"color":"black","size":42,"strokeWidth":1,"opacity":1},
 "title":{"font":"DejaVu Sans","fontSize":12.7,"fontWeight":"normal","color":"#808080","frame":"group","anchor":"middle","offset":-24,"baseline":"alphabetic","dx":8.5},
 "axis":{"domain":false,"grid":false,"ticks":true,"tickColor":"black","tickWidth":1,"tickSize":7,"labelColor":"black","labelFont":"DejaVu Sans","labelFontSize":12.5,"labelOverlap":false,"labelBound":false,"labelFlush":false},
 "axisY":{"labelAngle":270,"labelAlign":"center","labelBaseline":"alphabetic","labelPadding":11.3},
 "axisX":{"labelAngle":0,"labelAlign":"center","labelBaseline":"alphabetic","labelPadding":23}
}
}
